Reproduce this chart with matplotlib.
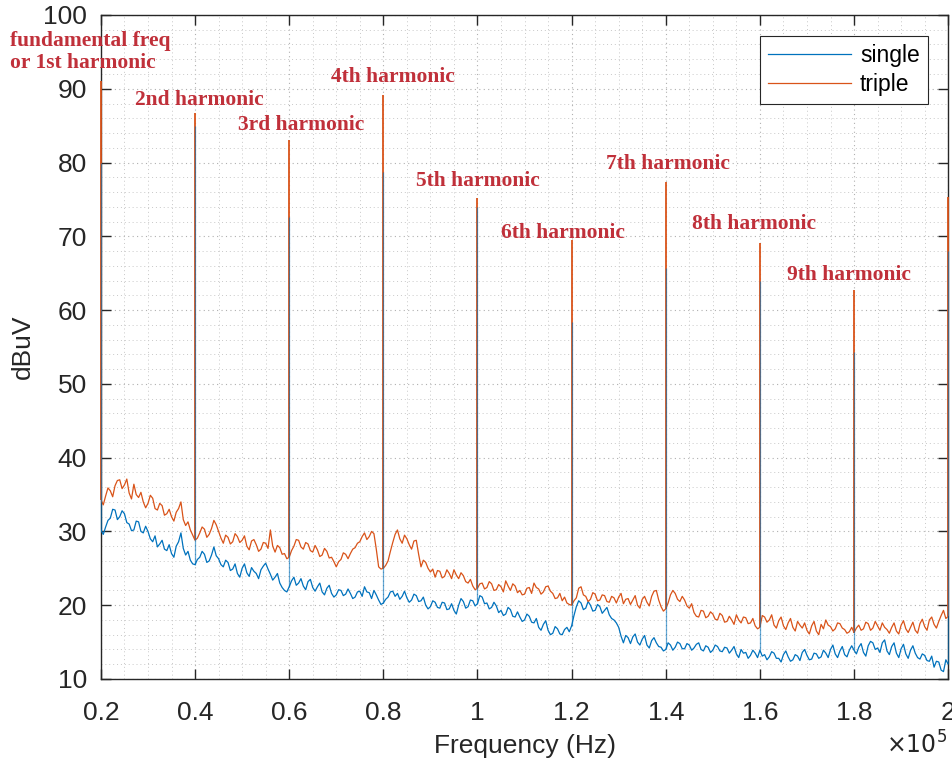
import numpy as np
import matplotlib
matplotlib.use("Agg")
import matplotlib.pyplot as plt
from matplotlib.ticker import MultipleLocator

# Frequency grid of the noise floor (kHz, 0.5 kHz steps, 20 .. 200)
freq_khz = np.arange(361) * 0.5 + 20

# Noise floor (dBuV), one row = 5 kHz
triple_floor = [
    34.3, 33.6, 34.8, 35.9, 35.5, 34.7, 36.2, 36.9, 37.0, 35.8,
    36.3, 37.1, 35.2, 34.4, 36.4, 35.0, 34.6, 35.3, 34.0, 33.2,
    33.8, 34.9, 34.5, 33.1, 32.9, 33.8, 33.5, 32.2, 32.4, 33.0,
    32.0, 31.4, 32.6, 33.1, 34.0, 31.6, 30.8, 31.3, 30.2, 29.5,
    28.8, 29.1, 29.8, 30.6, 30.3, 29.2, 29.6, 30.4, 31.5, 30.9,
    30.0, 29.1, 28.4, 29.5, 29.2, 28.3, 28.6, 29.7, 29.3, 28.5,
    28.8, 29.4, 28.0, 27.5, 28.7, 28.9, 28.2, 27.3, 27.6, 28.5,
    28.4, 27.7, 30.2, 28.0, 27.2, 28.1, 27.8, 26.9, 27.0, 26.3,
    26.5, 27.4, 28.0, 28.9, 28.8, 27.9, 27.6, 28.5, 28.3, 27.4,
    27.2, 28.1, 27.5, 26.6, 26.8, 27.7, 27.3, 26.4, 26.5, 25.9,
    25.2, 25.9, 26.2, 27.1, 26.9, 26.3, 27.0, 27.6, 27.8, 28.4,
    28.6, 29.3, 29.8, 28.9, 29.3, 30.0, 29.7, 27.6, 25.2, 24.9,
    25.0, 25.4, 26.0, 27.3, 28.5, 29.6, 30.2, 29.0, 28.4, 29.5,
    29.0, 28.2, 27.6, 28.7, 28.8, 26.9, 25.2, 26.1, 25.8, 25.0,
    24.5, 24.9, 23.8, 24.7, 24.6, 23.7, 23.9, 24.8, 24.3, 23.6,
    24.8, 24.1, 23.6, 24.4, 24.0, 23.2, 23.0, 23.5, 22.6, 22.1,
    22.3, 22.9, 23.0, 22.2, 22.4, 23.2, 22.9, 22.0, 22.1, 22.8,
    22.5, 21.8, 23.3, 22.6, 22.0, 22.9, 22.6, 21.7, 22.0, 21.4,
    21.5, 22.3, 22.4, 21.6, 23.0, 22.4, 22.2, 21.5, 21.8, 22.5,
    22.6, 21.9, 21.6, 20.9, 21.0, 21.6, 20.6, 21.1, 20.3, 20.1,
    20.0, 20.6, 21.0, 22.3, 22.5, 21.4, 21.2, 20.5, 20.8, 21.7,
    21.5, 20.6, 20.7, 21.4, 21.3, 20.5, 20.4, 21.2, 21.0, 20.3,
    21.1, 21.6, 20.2, 20.8, 20.9, 20.1, 20.7, 21.3, 20.0, 19.6,
    20.8, 21.2, 20.4, 19.9, 21.2, 21.9, 22.0, 20.7, 19.8, 19.2,
    19.5, 20.3, 21.4, 22.0, 21.6, 20.8, 20.5, 21.2, 20.7, 19.9,
    19.6, 20.2, 19.0, 18.5, 18.4, 19.3, 19.2, 18.3, 18.5, 19.1,
    18.8, 18.1, 18.0, 18.9, 18.6, 17.7, 17.8, 18.5, 18.0, 17.4,
    18.7, 18.0, 17.6, 18.4, 18.3, 17.5, 17.6, 18.2, 17.2, 16.8,
    17.0, 18.6, 18.4, 17.7, 18.0, 18.7, 17.3, 16.9, 17.9, 18.4,
    17.2, 16.7, 17.6, 18.2, 17.0, 16.5, 17.8, 17.3, 16.9, 17.6,
    16.6, 16.1, 17.2, 17.8, 16.5, 16.0, 17.4, 16.8, 18.0, 17.3,
    17.1, 16.5, 16.8, 17.6, 17.5, 16.9, 16.7, 16.2, 16.4, 17.0,
    16.3, 16.9, 17.3, 16.6, 16.8, 17.7, 17.5, 16.6, 16.9, 17.8,
    17.2, 16.6, 17.6, 17.0, 16.7, 16.2, 17.0, 17.6, 16.5, 16.1,
    17.3, 17.9, 16.8, 16.3, 17.0, 17.7, 16.6, 16.2, 17.5, 18.1,
    17.1, 16.6, 18.0, 18.4, 17.4, 16.9, 17.8, 18.6, 19.3, 18.2,
    18.5,
]

single_floor = [
    30.2, 29.6, 30.6, 31.5, 31.8, 33.0, 32.9, 31.6, 32.0, 32.8,
    32.4, 31.2, 31.0, 30.1, 30.2, 31.4, 31.3, 30.0, 29.8, 30.7,
    30.0, 29.0, 28.6, 29.4, 27.9, 28.3, 28.8, 27.6, 27.4, 28.2,
    27.0, 26.5, 28.0, 28.6, 29.8, 27.7, 26.8, 27.3, 26.1, 25.6,
    25.5, 26.2, 26.5, 27.3, 26.9, 25.8, 26.0, 26.8, 27.9, 26.7,
    26.3, 25.5, 25.2, 26.1, 25.8, 24.7, 24.9, 25.6, 24.3, 23.8,
    25.0, 25.6, 24.4, 23.9, 25.1, 24.6, 24.3, 23.6, 24.8, 25.3,
    25.7, 24.9, 24.2, 23.4, 23.8, 24.3, 23.0, 22.4, 22.0, 21.8,
    22.5, 23.3, 23.8, 22.7, 23.0, 23.6, 22.6, 22.1, 23.2, 23.5,
    22.4, 21.9, 22.5, 23.0, 21.8, 21.4, 22.3, 22.7, 21.6, 21.1,
    21.4, 22.1, 22.0, 21.3, 21.5, 22.2, 21.6, 20.9, 21.1, 21.8,
    21.9, 21.2, 22.5, 21.8, 21.7, 20.9, 22.0, 21.4, 20.7, 20.1,
    20.3, 20.8, 21.1, 21.8, 21.9, 21.2, 21.6, 20.8, 21.2, 21.9,
    21.0, 20.4, 20.7, 21.5, 21.3, 20.5, 20.6, 21.1, 20.0, 19.5,
    19.8, 20.6, 20.4, 19.7, 19.6, 20.4, 20.3, 19.4, 19.5, 20.2,
    19.3, 18.8, 20.0, 20.9, 20.5, 19.6, 19.8, 20.7, 20.6, 19.9,
    20.2, 21.3, 21.1, 20.2, 20.3, 19.5, 19.7, 20.4, 19.9, 19.0,
    19.3, 18.6, 18.8, 19.7, 19.4, 18.5, 18.4, 19.1, 18.4, 17.8,
    18.0, 18.8, 18.5, 17.7, 17.6, 18.2, 17.0, 16.6, 17.4, 17.9,
    16.6, 16.0, 16.2, 17.1, 16.8, 16.1, 16.0, 16.7, 17.0, 16.4,
    17.2, 18.6, 19.8, 20.6, 20.3, 19.4, 19.6, 20.5, 20.0, 19.2,
    19.3, 20.1, 19.8, 18.9, 19.3, 19.7, 18.7, 18.2, 18.0, 17.6,
    17.0, 15.8, 14.9, 15.9, 15.6, 14.8, 15.7, 16.1, 15.0, 14.6,
    15.4, 15.9, 14.6, 14.2, 15.2, 15.6, 14.9, 14.4, 14.3, 13.8,
    14.0, 14.9, 14.6, 13.9, 14.3, 15.0, 14.8, 14.1, 14.1, 14.8,
    14.6, 13.9, 14.2, 14.7, 14.9, 14.0, 13.8, 14.5, 14.3, 13.6,
    13.9, 14.6, 14.4, 13.8, 13.7, 14.3, 14.2, 13.5, 13.9, 14.4,
    13.4, 12.9, 14.0, 13.5, 13.6, 12.8, 13.2, 13.9, 13.5, 12.9,
    13.9, 13.1, 13.3, 12.6, 13.0, 13.7, 13.5, 12.8, 12.8, 12.3,
    13.3, 13.8, 13.0, 12.4, 12.6, 13.3, 13.1, 12.5, 13.6, 14.0,
    13.2, 12.6, 12.7, 13.5, 13.4, 12.8, 13.0, 13.9, 13.5, 12.9,
    14.0, 14.6, 13.4, 12.9, 13.8, 14.4, 13.3, 13.0, 13.9, 14.5,
    13.9, 13.4, 14.3, 14.8, 13.6, 13.1, 14.5, 15.1, 14.9, 14.0,
    14.2, 13.6, 14.9, 15.3, 13.8, 13.3, 14.4, 14.9, 13.5, 12.9,
    14.1, 14.7, 13.4, 12.8, 13.9, 14.5, 13.5, 12.9, 12.7, 13.4,
    13.2, 12.5, 12.4, 13.1, 11.6, 12.4, 12.3, 11.2, 11.0, 12.6,
    12.0,
]

# Harmonic peaks (kHz, dBuV)
harm_khz = [20, 40, 60, 80, 100, 120, 140, 160, 180, 200]
triple_peak = [91.0, 86.7, 83.1, 89.2, 75.2, 69.5, 77.4, 69.1, 62.7, 75.3]
single_peak = [80.0, 85.0, 72.6, 78.7, 74.0, 58.4, 65.7, 64.0, 54.3, 68.0]

harm_labels = ["2nd harmonic", "3rd harmonic", "4th harmonic", "5th harmonic",
               "6th harmonic", "7th harmonic", "8th harmonic", "9th harmonic"]
label_khz = [41.0, 62.5, 82.0, 100.1, 118.2, 140.5, 158.8, 179.0]
label_db = [88.5, 85.1, 91.6, 77.5, 70.5, 79.8, 71.7, 64.8]

x_ticks = [0.2, 0.4, 0.6, 0.8, 1, 1.2, 1.4, 1.6, 1.8, 2]

BLUE = "#0072BD"
ORANGE = "#D95319"
RED_TEXT = "#C0303A"
DARK = "#262626"


def main():
    plt.rcParams["font.family"] = ["Liberation Sans", "DejaVu Sans"]
    fig = plt.figure(figsize=(9.52, 7.6), dpi=100)
    ax = fig.add_axes([0.106, 0.1066, 0.890, 0.8737])

    f_hz = freq_khz * 1000.0
    h_hz = np.array(harm_khz) * 1000.0
    idx = [int(round((k - 20) * 2)) for k in harm_khz]

    l1, = ax.plot(f_hz, single_floor, color=BLUE, lw=0.9, zorder=3)
    l2, = ax.plot(f_hz, triple_floor, color=ORANGE, lw=0.9, zorder=4)

    # harmonic spikes (the ones on the axis edges stay visible)
    ax.vlines(h_hz, [triple_floor[i] for i in idx], triple_peak,
              color=ORANGE, lw=1.3, zorder=5, clip_on=False)
    ax.vlines(h_hz, [single_floor[i] for i in idx], single_peak,
              color=BLUE, lw=0.9, alpha=0.6, zorder=6, clip_on=False)

    ax.set_xlim(20000, 200000)
    ax.set_ylim(10, 100)
    ax.set_xticks([t * 1e5 for t in x_ticks])
    ax.set_xticklabels([f"{t:g}" for t in x_ticks])
    ax.set_yticks(range(10, 101, 10))
    ax.xaxis.set_minor_locator(MultipleLocator(5000))
    ax.yaxis.set_minor_locator(MultipleLocator(2))

    ax.grid(which="major", color="#b0b0b0", ls=(0, (1, 3)), lw=0.8)
    ax.grid(which="minor", color="#c8c8c8", ls=(0, (1, 3)), lw=0.7)
    ax.set_axisbelow(True)

    ax.tick_params(which="both", direction="in", top=True, right=True,
                   labelsize=19, colors=DARK, length=7, width=1)
    ax.tick_params(axis="x", pad=16)
    ax.tick_params(axis="y", pad=10)
    ax.tick_params(which="minor", length=0)
    for s in ax.spines.values():
        s.set_color(DARK)
        s.set_linewidth(1.0)

    ax.set_xlabel("Frequency (Hz)", fontsize=19, color=DARK, labelpad=6)
    ax.set_ylabel("dBuV", fontsize=19, color=DARK, labelpad=6)
    ax.text(0.999, -0.1, r"$\times10^5$", transform=ax.transAxes,
            ha="right", va="center", fontsize=17, color=DARK)

    leg = ax.legend([l1, l2], ["single", "triple"], loc="upper right",
                    bbox_to_anchor=(0.976, 0.968), borderaxespad=0,
                    fontsize=16.5, handlelength=3.6, handletextpad=0.4,
                    fancybox=False, framealpha=1, borderpad=0.35,
                    labelspacing=0.25)
    leg.get_frame().set_edgecolor(DARK)
    leg.get_frame().set_linewidth(0.8)

    serif = ["Liberation Serif", "DejaVu Serif"]
    for lab, xk, yd in zip(harm_labels, label_khz, label_db):
        ax.text(xk * 1000, yd, lab, ha="center", va="center", fontsize=15.5,
                fontweight="bold", family=serif, color=RED_TEXT, zorder=7)
    ax.text(650, 95.0, "fundamental freq\nor 1st harmonic", ha="left",
            va="center", fontsize=15.5, fontweight="bold", family=serif,
            color=RED_TEXT, linespacing=1.1, clip_on=False, zorder=7)

    fig.savefig("out.png", dpi=100)
    plt.close(fig)


if __name__ == "__main__":
    main()
